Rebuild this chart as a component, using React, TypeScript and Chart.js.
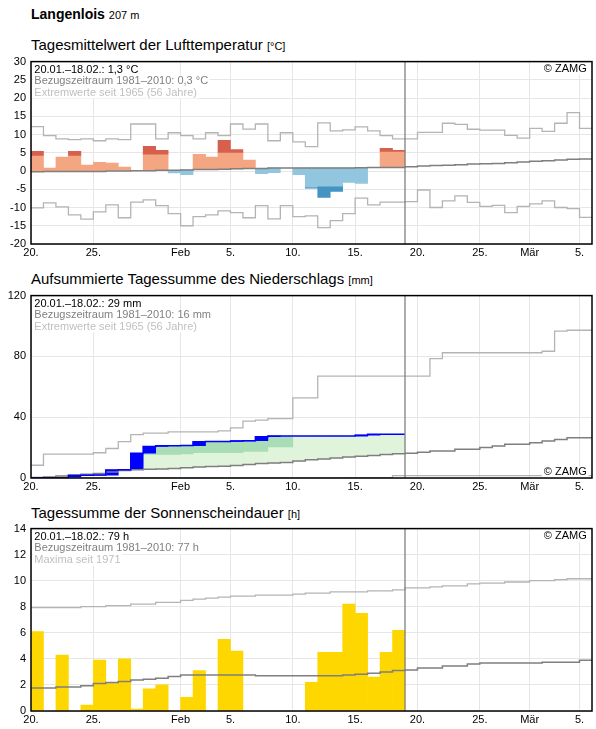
import React, { useEffect, useRef } from "react";
import { Chart, registerables } from "chart.js";

Chart.register(...registerables);

const FONT_FAMILY = "'Liberation Sans', Arial, Helvetica, sans-serif";

// Day offsets counted from 20 January; the axis runs to 6 March
const axisDays = 45;
const tickDays = [0, 5, 12, 16, 21, 26, 31, 36, 40, 44];
const tickLabels = ["20.", "25.", "Feb", "5.", "10.", "15.", "20.", "25.", "Mär", "5."];

// Air temperature, daily mean [°C] for 20.01.–18.02.
const tempObserved = [5.4, 0.8, 3.8, 5.4, 1.6, 2.4, 2.2, 1.1, 0.2, 6.8, 5.7, -0.5, -1.0, 4.6, 3.8, 8.4, 5.9, 3.0, -0.7, -0.45, 0.8, -1.0, -4.7, -7.2, -5.6, -3.15, -3.4, 1.0, 6.2, 5.7];
const tempWarmLimit = [4.3, 4.3, 4.3, 4.3, 4.4, 4.4, 4.5, 4.5, 4.6, 4.6, 4.6, 4.7, 4.7, 4.8, 4.9, 5.1, 5.1, 5.2, 5.2, 5.2, 5.3, 5.3, 5.3, 5.3, 5.4, 5.4, 5.4, 5.4, 5.4, 5.4];
const tempColdLimit = [-5.0, -5.0, -4.9, -4.9, -4.9, -4.8, -4.8, -4.8, -4.7, -4.7, -4.7, -4.7, -4.6, -4.6, -4.6, -4.6, -4.6, -4.6, -4.6, -4.6, -4.6, -4.6, -4.6, -4.3, -4.3, -4.3, -4.2, -4.2, -4.1, -4.1];
const tempMean = [-0.2, -0.1, -0.1, -0.1, -0.1, -0.1, 0.0, 0.0, 0.1, 0.1, 0.2, 0.2, 0.3, 0.4, 0.4, 0.5, 0.6, 0.7, 0.7, 0.8, 0.8, 0.8, 0.8, 0.8, 0.8, 0.8, 0.9, 1.0, 1.0, 1.0, 1.2, 1.4, 1.5, 1.6, 1.7, 1.9, 2.0, 2.1, 2.3, 2.5, 2.7, 2.8, 3.0, 3.2, 3.3];
const tempMax = [12.2, 9.7, 8.8, 8.6, 8.8, 8.3, 8.8, 8.6, 12.9, 12.9, 8.8, 10.5, 9.7, 8.8, 10.5, 9.7, 12.9, 11.5, 12.9, 8.3, 10.5, 8.0, 6.7, 13.2, 11.0, 11.3, 12.1, 11.0, 9.7, 8.8, 8.8, 10.6, 10.6, 13.1, 12.8, 11.45, 11.2, 11.2, 9.8, 9.0, 11.7, 10.9, 13.1, 16.0, 11.7];
const tempMin = [-10.1, -8.7, -9.8, -12.0, -13.2, -11.2, -9.3, -12.8, -8.5, -7.9, -9.5, -11.7, -15.0, -12.5, -12.0, -10.9, -11.4, -12.8, -9.5, -13.1, -9.5, -12.5, -12.3, -15.5, -13.6, -11.7, -7.4, -9.3, -8.5, -8.5, -8.4, -5.2, -10.0, -8.2, -6.8, -8.6, -9.7, -9.4, -11.4, -9.7, -9.0, -8.2, -10.0, -10.3, -12.7];

// Precipitation: daily sums [mm] and accumulated reference curves
const precipDaily = [0, 0, 0, 1.7, 0.1, 0.1, 3.3, 0.2, 10.9, 4.5, 0.4, 0, 0.1, 2.6, 0.1, 0, 0.4, 0.1, 2.7, 0.4, 0, 0, 0, 0, 0, 0, 0.6, 0.6, 0, 0];
const precipUpperLimit = [3, 4, 5, 6, 7, 8, 10, 12, 14, 15.5, 15.5, 15.5, 15.8, 16.6, 16.6, 16.6, 16.6, 17.5, 17.5, 20.5, 20.5, 28, 28.5, 29, 29.5, 30, 30.5, 31, 31.5, 32];
const precipLowerLimit = [0, 0.3, 0.5, 0.8, 1.0, 1.3, 1.6, 2.0, 2.3, 2.6, 2.9, 3.1, 3.4, 3.7, 4.0, 4.2, 4.5, 4.8, 5.0, 5.3, 5.5, 5.8, 6.1, 6.4, 6.7, 7.0, 7.3, 7.6, 7.9, 8.2];
const precipMeanCum = [0.3, 0.7, 1.3, 2.0, 2.4, 3.0, 4.0, 5.0, 5.4, 5.8, 6.0, 6.2, 6.8, 7.3, 7.5, 7.8, 8.3, 8.8, 9.5, 9.8, 10.2, 11.2, 12.0, 12.5, 13.2, 13.8, 14.3, 14.8, 15.5, 16.0, 16.3, 17.0, 17.8, 17.8, 18.9, 18.9, 20.0, 21.1, 22.2, 22.2, 23.2, 24.3, 25.4, 26.5, 26.5];
const precipMaxCum = [8.4, 15.7, 15.7, 15.7, 15.7, 16.6, 19.4, 23.9, 28.6, 29.5, 29.5, 30.3, 30.3, 30.3, 30.3, 31.0, 33.0, 37.4, 38.1, 39.1, 39.1, 52.7, 52.7, 67.0, 67.0, 67.0, 67.0, 67.0, 67.0, 67.0, 67.0, 67.0, 78.5, 82.4, 82.4, 82.4, 82.4, 82.4, 82.4, 82.4, 82.4, 83.4, 96.6, 97.2, 97.2];
const precipMinCum = [0, 0, 0, 0, 0, 0, 0, 0, 0, 0, 0, 0, 0, 0, 0, 0, 0, 0, 0, 0, 0, 0, 0, 0, 0, 0.3, 0.3, 0.3, 0.3, 1.5, 1.5, 1.5, 1.5, 1.5, 1.5, 1.5, 1.5, 1.5, 1.5, 1.5, 1.5, 1.5, 1.5, 1.5, 1.5];

// Sunshine duration, daily sums [h]
const sunObserved = [6.1, 0, 4.3, 0, 0.45, 3.9, 2.15, 4.0, 0.15, 1.7, 2.0, 0, 1.05, 3.1, 0, 5.5, 4.6, 0, 0, 0, 0, 0, 2.2, 4.5, 4.5, 8.2, 7.5, 2.6, 4.5, 6.2];
const sunMean = [1.76, 1.76, 1.84, 1.84, 1.94, 2.12, 2.19, 2.27, 2.37, 2.44, 2.52, 2.64, 2.77, 2.77, 2.77, 2.77, 2.77, 2.77, 2.7, 2.7, 2.7, 2.7, 2.7, 2.7, 2.7, 2.77, 2.82, 2.9, 3.0, 3.1, 3.15, 3.3, 3.3, 3.45, 3.45, 3.6, 3.68, 3.68, 3.68, 3.68, 3.68, 3.75, 3.75, 3.75, 3.9];
const sunMax = [7.93, 7.93, 7.93, 7.93, 8.01, 8.01, 8.09, 8.09, 8.21, 8.21, 8.34, 8.34, 8.49, 8.59, 8.66, 8.74, 8.82, 8.82, 8.89, 8.89, 8.89, 8.97, 9.04, 9.04, 9.14, 9.14, 9.14, 9.22, 9.22, 9.29, 9.45, 9.45, 9.52, 9.6, 9.6, 9.75, 9.82, 9.82, 9.9, 9.9, 10.0, 10.0, 10.08, 10.15, 10.15];

const observedDays = tempObserved.length;

const C = {
  grid: "#e6e6e6",
  extreme: "#b4b4b4",
  mean: "#7f7f7f",
  warm: "#f4a582",
  warmStrong: "#d6604d",
  cold: "#92c5de",
  coldStrong: "#4393c3",
  wet: "#e0f3db",
  wetStrong: "#a8ddb5",
  dry: "#ffeda0",
  dryStrong: "#fec44f",
  rain: "#0000ff",
  sun: "#ffd700",
};

type Pt = { x: number; y: any };

const stepPoints = (vals: number[]): Pt[] => {
  const pts: Pt[] = vals.map((v, i) => ({ x: i, y: v }));
  pts.push({ x: vals.length, y: vals[vals.length - 1] });
  return pts;
};

const stepLine = (vals: number[], color: string, width: number, order: number) => ({
  type: "line",
  data: stepPoints(vals),
  borderColor: color,
  borderWidth: width,
  pointRadius: 0,
  stepped: true,
  fill: false,
  order,
});

const barSet = (data: Pt[], colors: string[], order: number) => ({
  type: "bar",
  data,
  backgroundColor: colors,
  borderWidth: 0,
  barPercentage: 1,
  categoryPercentage: 1,
  grouped: false,
  order,
});

const clamp = (v: number, lo: number, hi: number) => Math.min(hi, Math.max(lo, v));

type LegendLine = { text: string; color: string };

const panelDecor = (lines: LegendLine[], zamgBottom: boolean) => ({
  id: "panelDecor",
  afterDatasetsDraw(chart: any) {
    const { ctx, chartArea: a, scales } = chart;
    ctx.save();
    const xNow = scales.x.getPixelForValue(observedDays);
    ctx.strokeStyle = "#808080";
    ctx.lineWidth = 1.3;
    ctx.beginPath();
    ctx.moveTo(xNow, a.top);
    ctx.lineTo(xNow, a.bottom);
    ctx.stroke();

    ctx.font = `11px ${FONT_FAMILY}`;
    ctx.textBaseline = "middle";
    lines.forEach((ln, i) => {
      const y = a.top + 8.3 + i * 11.3;
      const w = ctx.measureText(ln.text).width;
      ctx.fillStyle = "#fff";
      ctx.fillRect(a.left + 2, y - 6, w + 3, 12);
      ctx.fillStyle = ln.color;
      ctx.textAlign = "left";
      ctx.fillText(ln.text, a.left + 3.3, y);
    });

    const label = "© ZAMG";
    const zy = zamgBottom ? a.bottom - 6.3 : a.top + 7.5;
    const zw = ctx.measureText(label).width;
    ctx.fillStyle = "#fff";
    ctx.fillRect(a.right - 5.3 - zw - 2, zy - 6, zw + 4, 12);
    ctx.fillStyle = "#000";
    ctx.textAlign = "right";
    ctx.fillText(label, a.right - 5.3, zy);

    ctx.strokeStyle = "#000";
    ctx.lineWidth = 1.5;
    ctx.strokeRect(a.left, a.top, a.right - a.left, a.bottom - a.top);
    ctx.restore();
  },
});

const tickFont = { family: FONT_FAMILY, size: 11 };

const makeConfig = (
  datasets: any[],
  yMin: number,
  yMax: number,
  yStep: number,
  lines: LegendLine[],
  zamgBottom: boolean
): any => ({
  type: "bar",
  data: { datasets },
  options: {
    animation: false,
    responsive: false,
    devicePixelRatio: 1,
    events: [],
    layout: { padding: { top: 8, right: 4, left: 0, bottom: 0 } },
    plugins: { legend: { display: false }, tooltip: { enabled: false } },
    scales: {
      x: {
        type: "linear",
        min: 0,
        max: axisDays,
        offset: false,
        afterBuildTicks: (s: any) => {
          s.ticks = tickDays.map((v) => ({ value: v }));
        },
        afterFit: (s: any) => {
          s.height = 16;
        },
        ticks: {
          autoSkip: false,
          maxRotation: 0,
          minRotation: 0,
          padding: 2,
          color: "#000",
          font: tickFont,
          callback: (v: any) => {
            const k = tickDays.indexOf(Number(v));
            return k >= 0 ? tickLabels[k] : "";
          },
        },
        grid: { color: C.grid, lineWidth: 1, drawTicks: false, offset: false },
        border: { display: false },
      },
      y: {
        type: "linear",
        min: yMin,
        max: yMax,
        afterFit: (s: any) => {
          s.width = 31;
        },
        ticks: { stepSize: yStep, padding: 5, color: "#000", font: tickFont },
        grid: { color: C.grid, lineWidth: 1, drawTicks: false },
        border: { display: false },
      },
    },
  },
  plugins: [panelDecor(lines, zamgBottom)],
});

function temperatureConfig() {
  const light: Pt[] = [];
  const lightColors: string[] = [];
  const strong: Pt[] = [];
  const strongColors: string[] = [];
  tempObserved.forEach((v, i) => {
    const m = tempMean[i];
    const inner = clamp(v, tempColdLimit[i], tempWarmLimit[i]);
    light.push({ x: i + 0.5, y: Math.abs(inner - m) > 0.01 ? [m, inner] : null });
    lightColors.push(v >= m ? C.warm : C.cold);
    if (v > tempWarmLimit[i]) {
      strong.push({ x: i + 0.5, y: [tempWarmLimit[i], v] });
      strongColors.push(C.warmStrong);
    } else if (v < tempColdLimit[i]) {
      strong.push({ x: i + 0.5, y: [v, tempColdLimit[i]] });
      strongColors.push(C.coldStrong);
    } else {
      strong.push({ x: i + 0.5, y: null });
      strongColors.push(C.warmStrong);
    }
  });
  return makeConfig(
    [
      stepLine(tempMean, C.mean, 1.5, 0),
      stepLine(tempMax, C.extreme, 1.3, 1),
      stepLine(tempMin, C.extreme, 1.3, 1),
      barSet(strong, strongColors, 3),
      barSet(light, lightColors, 4),
    ],
    -20,
    30,
    5,
    [
      { text: "20.01.–18.02.: 1,3 °C", color: "#000" },
      { text: "Bezugszeitraum 1981–2010: 0,3 °C", color: "#808080" },
      { text: "Extremwerte seit 1965 (56 Jahre)", color: "#c0c0c0" },
    ],
    false
  );
}

function precipitationConfig() {
  const cum: number[] = [];
  precipDaily.reduce((acc, d) => {
    const s = acc + d;
    cum.push(s);
    return s;
  }, 0);
  const light: Pt[] = [];
  const lightColors: string[] = [];
  const strong: Pt[] = [];
  const strongColors: string[] = [];
  const daily: Pt[] = [];
  cum.forEach((c, i) => {
    const m = precipMeanCum[i];
    const up = precipUpperLimit[i];
    const lo = precipLowerLimit[i];
    const inner = clamp(c, lo, up);
    light.push({ x: i + 0.5, y: Math.abs(inner - m) > 0.01 ? [m, inner] : null });
    lightColors.push(c >= m ? C.wet : C.dry);
    if (c > up) {
      strong.push({ x: i + 0.5, y: [up, c] });
      strongColors.push(C.wetStrong);
    } else if (c < lo) {
      strong.push({ x: i + 0.5, y: [c, lo] });
      strongColors.push(C.dryStrong);
    } else {
      strong.push({ x: i + 0.5, y: null });
      strongColors.push(C.wetStrong);
    }
    daily.push({ x: i + 0.5, y: precipDaily[i] > 0 ? [c - precipDaily[i], c] : null });
  });
  return makeConfig(
    [
      stepLine(cum, C.rain, 1.5, 0),
      stepLine(precipMeanCum, C.mean, 1.5, 1),
      stepLine(precipMaxCum, C.extreme, 1.3, 2),
      stepLine(precipMinCum, C.extreme, 1.3, 2),
      barSet(daily, precipDaily.map(() => C.rain), 3),
      barSet(strong, strongColors, 4),
      barSet(light, lightColors, 5),
    ],
    0,
    120,
    40,
    [
      { text: "20.01.–18.02.: 29 mm", color: "#000" },
      { text: "Bezugszeitraum 1981–2010: 16 mm", color: "#808080" },
      { text: "Extremwerte seit 1965 (56 Jahre)", color: "#c0c0c0" },
    ],
    true
  );
}

function sunshineConfig() {
  const bars: Pt[] = sunObserved.map((v, i) => ({ x: i + 0.5, y: v > 0 ? v : null }));
  return makeConfig(
    [
      stepLine(sunMean, C.mean, 1.5, 0),
      stepLine(sunMax, C.extreme, 1.3, 1),
      barSet(bars, sunObserved.map(() => C.sun), 3),
    ],
    0,
    14,
    2,
    [
      { text: "20.01.–18.02.: 79 h", color: "#000" },
      { text: "Bezugszeitraum 1981–2010: 77 h", color: "#808080" },
      { text: "Maxima seit 1971", color: "#c0c0c0" },
    ],
    false
  );
}

const titleStyle = (top: number): React.CSSProperties => ({
  position: "absolute",
  left: 31,
  top,
  fontSize: 15,
  lineHeight: "15px",
  whiteSpace: "nowrap",
  color: "#000",
});

const unitStyle: React.CSSProperties = { fontSize: 11 };

const canvasStyle = (top: number): React.CSSProperties => ({
  position: "absolute",
  left: 0,
  top,
  display: "block",
});

export default function App() {
  const tRef = useRef<HTMLCanvasElement>(null);
  const pRef = useRef<HTMLCanvasElement>(null);
  const sRef = useRef<HTMLCanvasElement>(null);

  useEffect(() => {
    const charts = [
      new Chart(tRef.current as HTMLCanvasElement, temperatureConfig()),
      new Chart(pRef.current as HTMLCanvasElement, precipitationConfig()),
      new Chart(sRef.current as HTMLCanvasElement, sunshineConfig()),
    ];
    return () => charts.forEach((c) => c.destroy());
  }, []);

  return (
    <div
      style={{
        position: "absolute",
        left: 0,
        top: 0,
        width: 596,
        height: 729,
        background: "#fff",
        fontFamily: FONT_FAMILY,
        overflow: "hidden",
      }}
    >
      <div style={{ position: "absolute", left: 31, top: 7, fontSize: 14, lineHeight: "14px", whiteSpace: "nowrap" }}>
        <b>Langenlois</b> <span style={{ fontSize: 11 }}>207 m</span>
      </div>
      <div style={titleStyle(37.3)}>
        Tagesmittelwert der Lufttemperatur <span style={unitStyle}>[°C]</span>
      </div>
      <canvas ref={tRef} width={596} height={210} style={canvasStyle(50)} />
      <div style={titleStyle(270.6)}>
        Aufsummierte Tagessumme des Niederschlags <span style={unitStyle}>[mm]</span>
      </div>
      <canvas ref={pRef} width={596} height={210} style={canvasStyle(284)} />
      <div style={titleStyle(504.6)}>
        Tagessumme der Sonnenscheindauer <span style={unitStyle}>[h]</span>
      </div>
      <canvas ref={sRef} width={596} height={210} style={canvasStyle(517)} />
    </div>
  );
}
